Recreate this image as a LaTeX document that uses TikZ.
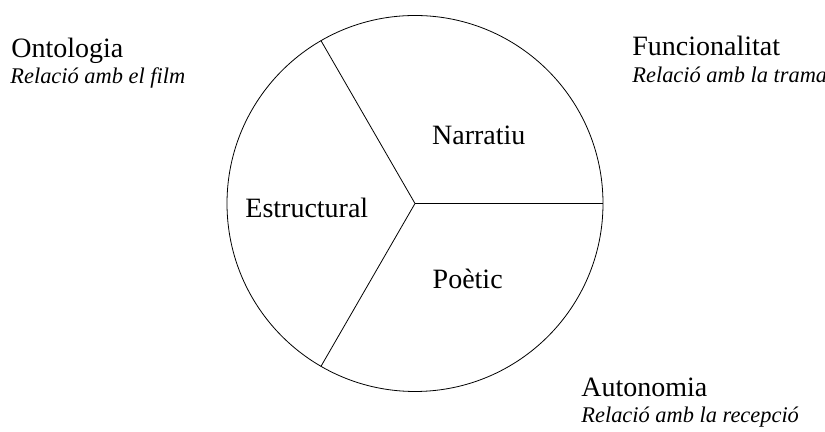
\documentclass[tikz,border=0pt]{standalone}
\usepackage{fontspec}
\setmainfont{Liberation Serif}
\usepackage{tikz}
\usetikzlibrary{calc}

\tikzset{
  part/.style={inner sep=0pt, anchor=base west, font=\fontsize{14}{16}\selectfont},
  rel/.style={inner sep=0pt, anchor=base west, font=\fontsize{11.2}{13}\selectfont\itshape}
}

\begin{document}
\begin{tikzpicture}[x=0.5pt,y=0.5pt]
\useasboundingbox (0,0) rectangle (825,432);
\def\r{188}
\coordinate (c) at (415,228.5);
\draw (c) circle (\r);
\draw (c) -- ($(c)+(0:\r)$);
\draw (c) -- ($(c)+(120:\r)$);
\draw (c) -- ($(c)+(240:\r)$);
\path (431.7,287) node[part] (narratiu) {Narratiu};
\path (245,214.7) node[part] (estructural) {Estructural};
\path (432.3,143.7) node[part] (poetic) {Poètic};
%% the three relations round the circle
\path (11,374.3) node[part] (ontologia) {Ontologia};
\path (10,348) node[rel] (film) {Relació amb el film};
\path (632,376) node[part] (funcionalitat) {Funcionalitat};
\path (632,349.3) node[rel] (trama) {Relació amb la trama};
\path (581,35.3) node[part] (autonomia) {Autonomia};
\path (581,9) node[rel] (recepcio) {Relació amb la recepció};
\end{tikzpicture}
\end{document}
